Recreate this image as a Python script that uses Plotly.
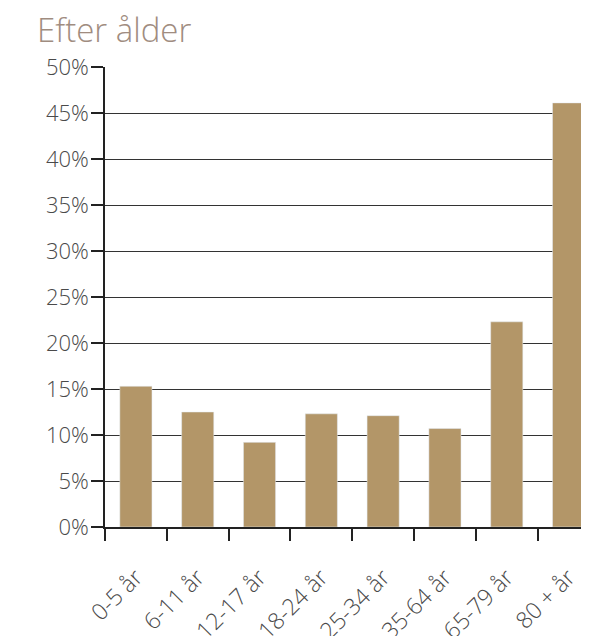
import plotly.graph_objects as go

categories = ["0-5 år", "6-11 år", "12-17 år", "18-24 år", "25-34 år", "35-64 år", "65-79 år", "80 + år"]
values = [15.3, 12.5, 9.2, 12.3, 12.1, 10.7, 22.3, 46.1]
y_ticks = [0, 5, 10, 15, 20, 25, 30, 35, 40, 45, 50]
y_tick_labels = [f"{v}%" for v in y_ticks]

FONT = "Open Sans, Liberation Sans, Arial, sans-serif"

fig = go.Figure(go.Bar(x=categories, y=values, marker_color="#B39668", width=0.52))

fig.update_layout(
    width=589, height=636,
    margin=dict(l=97, r=0, t=59, b=117, autoexpand=False),
    plot_bgcolor="white", paper_bgcolor="white",
    showlegend=False,
    font=dict(family=FONT, color="#555555", weight=300),
    title=dict(text="Efter ålder", x=29/589, xref="container", xanchor="left",
               y=1 - 22/636, yref="container", yanchor="middle",
               font=dict(size=33, color="#A08C80", family=FONT, weight=300)),
)

fig.update_xaxes(
    type="category",
    range=[-0.5, 7.46],
    tickson="boundaries",
    ticks="outside", ticklen=12, tickcolor="#222222", tickwidth=1.5,
    tickangle=-45,
    ticklabelstandoff=26,
    automargin=False,
    tickfont=dict(size=23, color="#4a4a4a", family=FONT, weight=300),
    showline=True, linecolor="#222222", linewidth=1.5,
    showgrid=False,
)
fig.update_yaxes(
    range=[0, 50],
    tickvals=y_ticks, ticktext=y_tick_labels,
    ticks="outside", ticklen=12, tickcolor="#222222", tickwidth=1.5,
    ticklabelstandoff=-2,
    automargin=False,
    tickfont=dict(size=22, color="#4a4a4a", family=FONT, weight=300),
    showline=True, linecolor="#222222", linewidth=1.5,
    showgrid=True, gridcolor="#333333", gridwidth=1.3,
    zeroline=False,
)

fig.write_html("out.html")
